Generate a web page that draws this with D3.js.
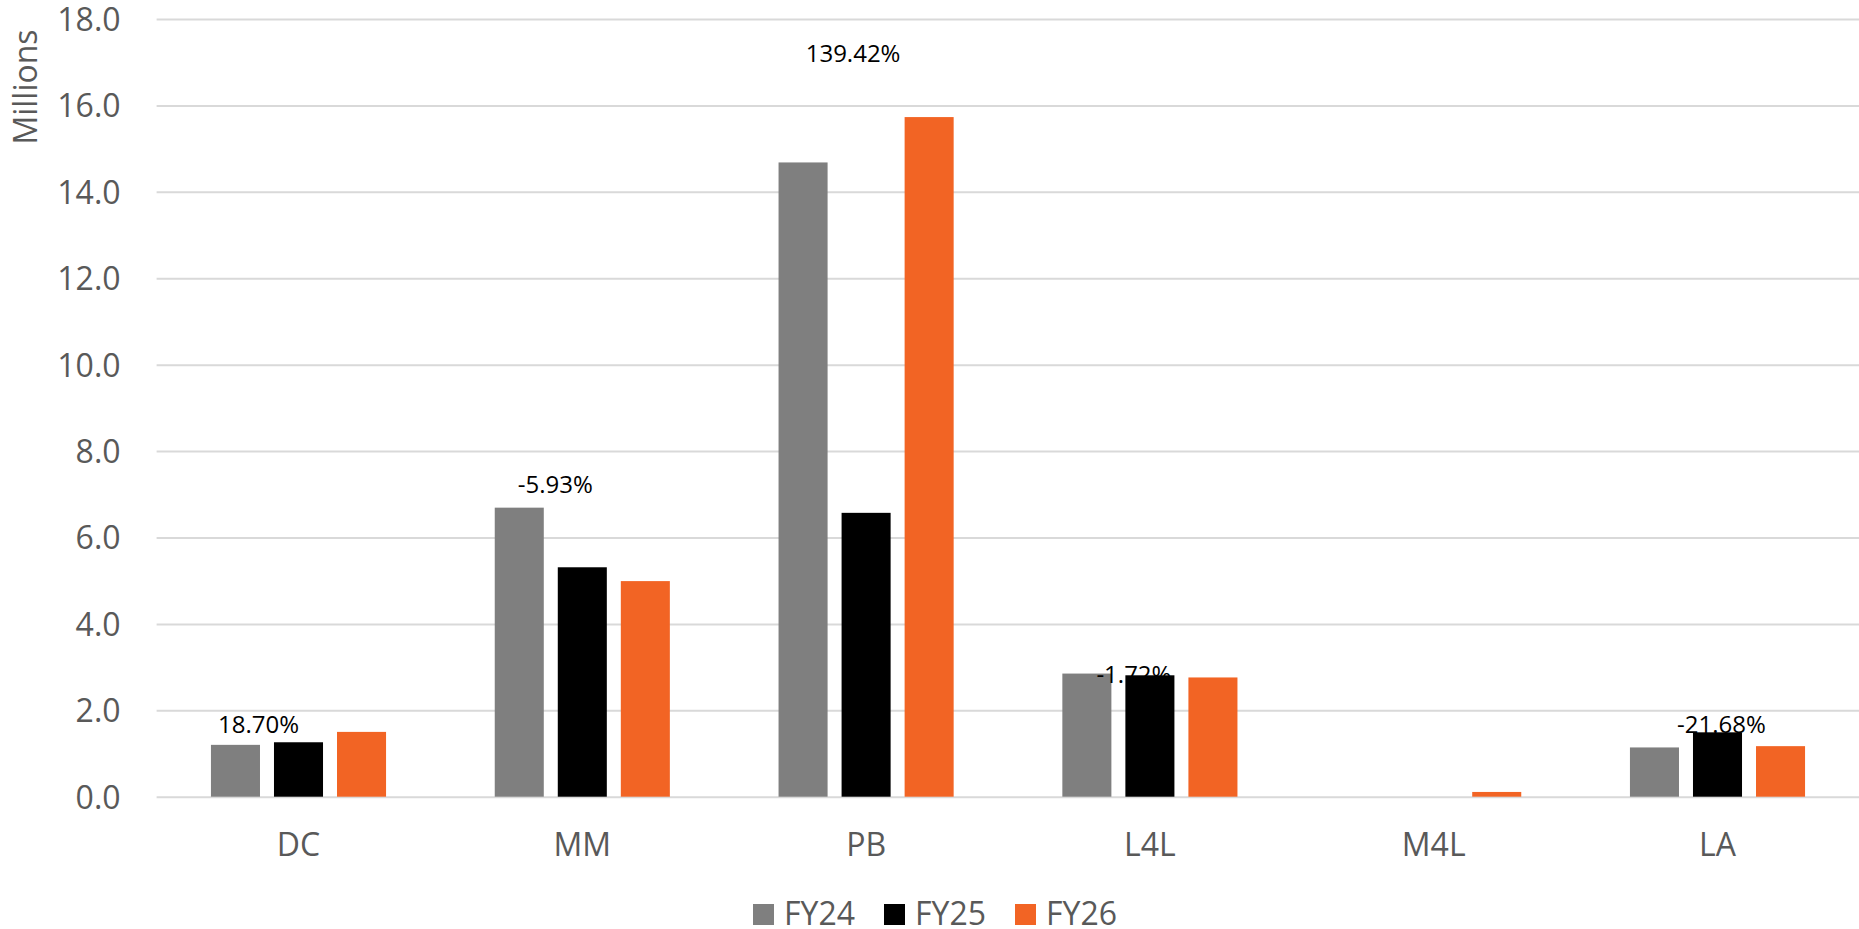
<!DOCTYPE html>
<html>
<head>
<meta charset="utf-8">
<script src="https://cdn.jsdelivr.net/npm/d3@7"></script>
<style>
  html, body { margin: 0; padding: 0; background: #ffffff; }
  svg { display: block; font-family: "Open Sans", "Noto Sans", sans-serif; }
</style>
</head>
<body>
<svg id="chart" width="1859" height="929"></svg>
<script>
// ---- data (millions) ----
const categories = ["DC", "MM", "PB", "L4L", "M4L", "LA"];
const seriesNames = ["FY24", "FY25", "FY26"];
const fy24 = [1.20, 6.69, 14.68, 2.85, 0.00, 1.14];
const fy25 = [1.26, 5.31, 6.57, 2.81, 0.00, 1.49];
const fy26 = [1.50, 4.99, 15.73, 2.76, 0.11, 1.17];
const changeLabels = ["18.70%", "-5.93%", "139.42%", "-1.72%", "", "-21.68%"];
const yTicks = [0, 2, 4, 6, 8, 10, 12, 14, 16, 18];

// ---- styling / layout ----
const colors = { FY24: "#7f7f7f", FY25: "#000000", FY26: "#f26424" };
const axisText = "#595959";
const gridColor = "#d9d9d9";
// where each change label sits: horizontal shift from the category centre (px)
// and baseline height in axis units
const labelShift = [-40, -27, -13, -16, 0, 4];
const labelLevel = [1.47, 7.03, 17.01, 2.63, 0, 1.47];

const values = { FY24: fy24, FY25: fy25, FY26: fy26 };
const rows = categories.map((c, i) => ({
  cat: c,
  vals: seriesNames.map(s => ({ key: s, value: values[s][i] }))
}));

const svg = d3.select("#chart");
const plot = { left: 156.6, right: 1859.4, top: 19, bottom: 796.7 };

const x0 = d3.scaleBand()
  .domain(categories)
  .range([plot.left, plot.right])
  .paddingInner(0.383)
  .paddingOuter(0.1915);

const x1 = d3.scaleBand()
  .domain(seriesNames)
  .range([0, x0.bandwidth()])
  .paddingInner(0.222)
  .paddingOuter(0);

const y = d3.scaleLinear().domain([0, 18]).range([plot.bottom, plot.top]);

// gridlines + y tick labels
const yAxis = d3.axisLeft(y)
  .tickValues(yTicks)
  .tickFormat(d3.format(".1f"))
  .tickSize(-(plot.right - plot.left))
  .tickPadding(36);

const gy = svg.append("g")
  .attr("transform", `translate(${plot.left},0)`)
  .call(yAxis);
gy.select(".domain").remove();
gy.selectAll(".tick line").attr("stroke", gridColor).attr("stroke-width", 2);
gy.selectAll(".tick text")
  .attr("fill", axisText)
  .attr("font-size", 32)
  .attr("font-family", "'Open Sans', sans-serif")
  .attr("dy", "0.36em");

// axis title
svg.append("text")
  .attr("transform", `translate(37,87) rotate(-90)`)
  .attr("text-anchor", "middle")
  .attr("fill", axisText)
  .attr("font-size", 32)
  .text("Millions");

// bars
const groups = svg.append("g").selectAll("g")
  .data(rows)
  .join("g")
  .attr("transform", d => `translate(${x0(d.cat)},0)`);

groups.selectAll("rect")
  .data(d => d.vals)
  .join("rect")
  .attr("x", d => x1(d.key))
  .attr("width", x1.bandwidth())
  .attr("y", d => y(d.value))
  .attr("height", d => y(0) - y(d.value))
  .attr("fill", d => colors[d.key]);

// category labels
const xAxis = d3.axisBottom(x0).tickSize(0).tickPadding(37);
const gx = svg.append("g")
  .attr("transform", `translate(0,${plot.bottom})`)
  .call(xAxis);
gx.select(".domain").remove();
gx.selectAll(".tick text")
  .attr("fill", axisText)
  .attr("font-size", 32)
  .attr("font-family", "'Open Sans', sans-serif");

// change labels
svg.append("g").selectAll("text")
  .data(categories.map((c, i) => ({ c, i })).filter(d => changeLabels[d.i] !== ""))
  .join("text")
  .attr("x", d => x0(d.c) + x0.bandwidth() / 2 + labelShift[d.i])
  .attr("y", d => y(labelLevel[d.i]))
  .attr("text-anchor", "middle")
  .attr("fill", "#000000")
  .attr("font-size", 24)
  .text(d => changeLabels[d.i]);

// legend
const legend = svg.append("g").attr("transform", "translate(753,904)");
const item = legend.selectAll("g")
  .data(seriesNames)
  .join("g")
  .attr("transform", (d, i) => `translate(${i * 131},0)`);
item.append("rect")
  .attr("width", 21).attr("height", 21)
  .attr("fill", d => colors[d]);
item.append("text")
  .attr("x", 31).attr("y", 21)
  .attr("fill", axisText)
  .attr("font-size", 32)
  .text(d => d);
</script>
</body>
</html>
